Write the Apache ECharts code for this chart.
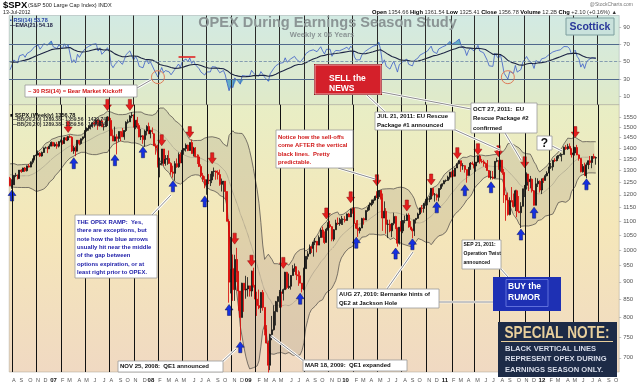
<!DOCTYPE html>
<html><head><meta charset="utf-8">
<script src="https://cdn.jsdelivr.net/npm/echarts@6/dist/echarts.min.js"></script>
<style>html,body{margin:0;padding:0;background:#fff}#c{width:640px;height:385px}</style>
</head><body><div id="c"></div>
<script>
// ---------- DATA ----------
const firstWeek = '2006-07-14';   // first weekly bar (Friday)
const weekSlots = 326;            // axis runs a few weeks past the last bar
const priceMin = 668, priceMax = 1616;

// closes before the first bar (only used to seed BB(20) and RSI(14))
const warmupClose = [1265,1259,1267,1268,1248,1285,1287,1261,1284,1264,1267,1288,1289,1287,1282,1307,1302,1295,1295,1289,1311,1310,1325,1291,1267,1280,1288,1253,1252,1245,1270,1265];

const weeklyOpen = [
1267,1237,1240,1279,1280,1266,1302,1296,1311,1299,1320,1315,1336,1350,1366,1368,1377,1364,1380,1401,1401,1397,1409,1427,1410,
1418,1409,1431,1431,1422,1449,1438,1455,1451,1387,1402,1386,1437,1421,1444,1453,1484,1494,1505,1505,1522,1515,1536,1507,1532,1502,1503,1530,1552,1534,1458,1433,1453,1445,1479,1474,1453,1484,1525,1527,1557,1561,1500,1535,1509,1453,1458,1440,1481,1504,1468,1484,
1468,1411,1401,1325,1331,1396,1331,1349,1353,1331,1294,1288,1330,1316,1370,1333,1390,1398,1414,1389,1426,1375,1400,1361,1360,1318,1278,1262,1239,1261,1257,1260,1296,1298,1292,1283,1242,1252,1255,1213,1099,899,940,877,969,930,873,800,896,876,879,888,
873,932,890,850,832,826,869,827,770,735,683,756,768,816,843,857,870,866,877,929,883,887,919,940,946,921,918,896,879,940,979,987,1010,1005,1026,1029,1016,1042,1068,1044,1025,1071,1087,1080,1036,1069,1093,1091,1091,1106,1106,1102,1126,
1115,1145,1136,1092,1074,1066,1075,1109,1104,1139,1150,1160,1167,1179,1194,1192,1217,1187,1111,1136,1088,1089,1065,1092,1117,1076,1022,1078,1065,1102,1102,1122,1079,1071,1065,1105,1110,1126,1149,1147,1166,1177,1183,1183,1226,1200,1200,1190,1225,1240,1244,1257,
1258,1272,1293,1283,1276,1311,1330,1343,1320,1321,1304,1279,1314,1332,1328,1320,1337,1364,1340,1338,1333,1331,1300,1271,1272,1268,1340,1344,1316,1345,1292,1199,1179,1124,1177,1174,1154,1216,1136,1131,1155,1224,1238,1285,1253,1263,1216,1159,1244,1255,1219,1265,
1258,1278,1289,1315,1316,1345,1343,1361,1366,1370,1371,1404,1397,1408,1398,1370,1378,1403,1369,1353,1295,1318,1278,1325,1343,1335,1362,1354.66];

const weeklyHigh = [
1273,1263,1280,1290,1283,1302,1306,1312,1315,1322,1329,1340,1353,1366,1372,1389,1381,1384,1403,1407,1406,1418,1431,1429,1427,
1429,1431,1440,1437,1452,1454,1457,1461,1456,1410,1409,1438,1438,1445,1453,1484,1499,1510,1513,1522,1530,1540,1540,1538,1540,1518,1534,1556,1555,1547,1489,1503,1466,1480,1481,1496,1485,1530,1539,1561,1576,1565,1535,1552,1520,1492,1462,1488,1510,1523,1486,1499,
1471,1421,1416,1356,1396,1396,1368,1368,1389,1336,1321,1341,1353,1380,1380,1395,1400,1422,1416,1426,1440,1406,1405,1372,1370,1327,1290,1276,1262,1285,1286,1297,1313,1300,1301,1304,1266,1256,1255,1214,1107,1044,985,984,1007,933,873,897,896,918,914,888,
934,943,890,871,877,870,876,827,780,741,758,804,833,845,857,876,871,880,930,930,925,920,951,956,946,935,931,896,943,979,996,1018,1013,1027,1040,1029,1049,1074,1080,1063,1076,1096,1101,1082,1071,1105,1113,1112,1119,1110,1118,1128,1130,
1145,1150,1150,1103,1104,1079,1112,1113,1139,1151,1170,1181,1181,1194,1214,1217,1219,1205,1174,1148,1105,1105,1092,1131,1119,1076,1078,1100,1103,1120,1128,1129,1100,1073,1105,1110,1131,1149,1160,1167,1184,1190,1196,1227,1228,1207,1205,1225,1241,1246,1259,1262,
1278,1293,1296,1302,1311,1330,1344,1343,1332,1323,1304,1314,1337,1339,1330,1337,1364,1370,1351,1347,1334,1346,1302,1299,1298,1341,1356,1344,1347,1346,1307,1199,1209,1190,1231,1205,1220,1220,1195,1171,1224,1239,1292,1285,1277,1266,1219,1269,1267,1258,1265,1270,
1285,1297,1316,1333,1345,1354,1363,1368,1378,1374,1407,1414,1420,1422,1398,1392,1406,1415,1371,1355,1328,1334,1335,1344,1364,1363,1374,1361.54];

const weeklyLow = [
1234,1224,1240,1272,1262,1266,1290,1294,1294,1296,1313,1314,1327,1344,1360,1367,1360,1361,1378,1399,1377,1397,1409,1409,1406,
1397,1403,1426,1416,1420,1433,1433,1448,1382,1374,1363,1386,1413,1416,1436,1448,1478,1483,1489,1498,1501,1512,1487,1504,1502,1484,1503,1506,1529,1458,1433,1432,1371,1430,1432,1453,1439,1477,1518,1527,1546,1500,1490,1492,1451,1438,1420,1406,1460,1467,1446,1467,
1411,1370,1313,1271,1322,1320,1321,1325,1330,1282,1270,1257,1312,1312,1332,1324,1370,1384,1386,1387,1374,1362,1358,1328,1315,1272,1252,1226,1200,1243,1235,1247,1274,1261,1262,1236,1213,1134,1180,1099,840,866,845,845,899,818,741,800,815,851,857,857,
857,883,818,804,822,812,818,754,734,667,672,742,766,779,814,826,827,846,877,878,879,877,919,930,905,888,896,869,875,940,969,987,990,978,1016,992,1016,1041,1041,1020,1025,1066,1075,1029,1029,1069,1086,1083,1086,1086,1095,1102,1115,
1115,1127,1090,1071,1044,1056,1075,1087,1104,1134,1140,1155,1160,1176,1187,1183,1181,1065,1111,1055,1040,1060,1043,1085,1071,1011,1018,1063,1057,1092,1101,1076,1069,1040,1047,1091,1108,1122,1131,1131,1157,1159,1171,1180,1194,1173,1177,1174,1219,1233,1243,1251,
1257,1262,1271,1275,1276,1311,1327,1294,1303,1291,1249,1279,1303,1324,1309,1295,1334,1330,1332,1317,1311,1300,1268,1262,1262,1266,1336,1303,1295,1282,1168,1101,1120,1121,1170,1150,1137,1114,1131,1075,1155,1191,1221,1215,1226,1209,1158,1159,1231,1209,1203,1248,
1258,1275,1289,1307,1300,1337,1340,1352,1361,1340,1371,1392,1392,1397,1357,1358,1366,1368,1343,1292,1291,1278,1267,1306,1324,1310,1351,1325.41];

const weeklyClose = [
1237,1240,1279,1280,1266,1302,1296,1311,1299,1320,1315,1336,1350,1366,1368,1377,1364,1380,1401,1401,1397,1409,1427,1410,1418,
1409,1431,1431,1422,1449,1438,1455,1451,1387,1402,1386,1437,1421,1444,1453,1484,1494,1505,1505,1522,1515,1536,1507,1532,1502,1503,1530,1552,1534,1458,1433,1453,1445,1479,1474,1453,1484,1525,1527,1557,1561,1500,1535,1509,1453,1458,1440,1481,1504,1468,1484,1478,
1411,1401,1325,1331,1396,1331,1349,1353,1331,1294,1288,1330,1316,1370,1333,1390,1398,1414,1389,1426,1375,1400,1361,1360,1318,1278,1262,1239,1261,1257,1260,1296,1298,1292,1283,1242,1252,1255,1213,1099,899,940,877,969,930,873,800,896,876,879,888,873,
932,890,850,832,826,869,827,770,735,683,756,768,816,843,857,870,866,877,929,883,887,919,940,946,921,918,896,879,940,979,987,1010,1005,1026,1029,1016,1042,1068,1044,1025,1071,1087,1080,1036,1069,1093,1091,1091,1106,1106,1102,1126,1115,
1145,1136,1092,1074,1066,1075,1109,1104,1139,1150,1160,1167,1179,1194,1192,1217,1187,1111,1136,1088,1089,1065,1092,1117,1076,1022,1078,1065,1102,1102,1122,1079,1071,1065,1105,1110,1126,1149,1147,1166,1177,1183,1183,1226,1200,1200,1190,1225,1240,1244,1257,1258,
1272,1293,1283,1276,1311,1330,1343,1320,1321,1304,1279,1314,1332,1328,1320,1337,1364,1340,1338,1333,1331,1300,1271,1272,1268,1340,1344,1316,1345,1292,1199,1179,1124,1177,1174,1154,1216,1136,1131,1155,1224,1238,1285,1253,1263,1216,1159,1244,1255,1219,1265,1258,
1278,1289,1315,1316,1345,1343,1361,1366,1370,1371,1404,1397,1408,1398,1370,1378,1403,1369,1353,1295,1318,1278,1325,1343,1335,1362,1354.68,1356.78];

// options expiration weeks in earnings-season months (vertical black lines)
const opexDates = ['2006-07-21','2006-10-20','2007-01-19','2007-04-20','2007-07-20','2007-10-19','2008-01-18','2008-04-18','2008-07-18','2008-10-17','2009-01-16','2009-04-17','2009-07-17','2009-10-16','2010-01-15','2010-04-16','2010-07-16','2010-10-15','2011-01-21','2011-04-15','2011-07-15','2011-10-21','2012-01-20','2012-04-20','2012-07-20'];

// red (sell) and blue (buy) arrows: week and price level of the arrow
const sellArrowDates  = ['2007-02-16','2007-07-13','2007-10-05','2008-02-01','2008-05-16','2008-08-08','2008-10-31','2009-01-02','2009-05-01','2009-10-09','2010-01-08','2010-04-16','2010-08-06','2010-11-05','2011-02-11','2011-04-29','2011-07-15','2011-10-21','2012-04-27'];
const sellArrowPrices = [1501,1615,1615,1437,1476,1354,1038,965,958,1128,1190,1259,1158,1262,1377,1395,1386,1336,1476];
const buyArrowDates   = ['2006-07-21','2007-03-09','2007-08-10','2007-11-23','2008-03-14','2008-07-11','2008-10-10','2008-11-21','2009-03-06','2009-07-03','2010-01-29','2010-06-25','2010-08-27','2010-11-26','2011-03-11','2011-06-17','2011-10-07','2011-11-25','2012-06-08'];
const buyArrowPrices  = [1197,1332,1345,1381,1234,1174,820,725,652,851,1024,988,1019,1151,1218,1230,1052,1131,1242];

// RSI annotations
const rsiCircleDates  = ['2008-01-18','2011-08-19'];
const rsiCircleValues = [32,32];
const rsiRedLine = {from:'2008-04-04', to:'2008-06-06', value:55.5};

// tick labels
const rsiTicks = [10,30,50,70,90];
const priceTicks = [700,750,800,850,900,950,1000,1050,1100,1150,1200,1250,1300,1350,1400,1450,1500,1550];
const monthLetters = ['J','F','M','A','M','J','J','A','S','O','N','D'];

// ---------- BUILD ----------
const F = '"Liberation Sans", Arial, Helvetica, sans-serif';
const cats = [];
const t0 = Date.parse(firstWeek);
for (let i = 0; i < weekSlots; i++) cats.push(new Date(t0 + i * 604800000).toISOString().slice(0, 10));

const N = weeklyClose.length;
const candles = weeklyOpen.map((o, i) => [o, weeklyClose[i], weeklyLow[i], weeklyHigh[i]]);

const allClose = warmupClose.concat(weeklyClose);
const W = warmupClose.length;
// Bollinger Bands (20, 2)
const bbMid = [], bbLo = [], bbDiff = [];
for (let i = 0; i < N; i++) {
  const j = i + W; let s = 0;
  for (let q = j - 19; q <= j; q++) s += allClose[q];
  const m = s / 20; let v = 0;
  for (let q = j - 19; q <= j; q++) v += (allClose[q] - m) * (allClose[q] - m);
  const sd = Math.sqrt(v / 20);
  bbMid.push(+m.toFixed(2)); bbLo.push(+(m - 2 * sd).toFixed(2)); bbDiff.push(+(4 * sd).toFixed(2));
}
// RSI(14) (Wilder) and EMA(21) of RSI
const rsiAll = new Array(allClose.length).fill(null);
let ag = 0, al = 0;
for (let j = 1; j < allClose.length; j++) {
  const ch = allClose[j] - allClose[j - 1];
  const g = ch > 0 ? ch : 0, l = ch < 0 ? -ch : 0;
  if (j <= 14) { ag += g / 14; al += l / 14; } else { ag = (ag * 13 + g) / 14; al = (al * 13 + l) / 14; }
  if (j >= 14) rsiAll[j] = al === 0 ? 100 : 100 - 100 / (1 + ag / al);
}
const emaAll = new Array(allClose.length).fill(null);
let e = null; const kk = 2 / 22;
for (let j = 14; j < allClose.length; j++) { e = e === null ? rsiAll[j] : e + kk * (rsiAll[j] - e); emaAll[j] = e; }
const rsi = rsiAll.slice(W).map(v => +v.toFixed(2));
const rsiEma = emaAll.slice(W).map(v => +v.toFixed(2));
const rsiLoBase = rsi.map(v => Math.min(v, 30));
const rsiLoFill = rsi.map(v => +(30 - Math.min(v, 30)).toFixed(2));
const rsiHiBase = rsi.map(() => 70);
const rsiHiFill = rsi.map(v => +(Math.max(v, 70) - 70).toFixed(2));

const downArrow = 'path://M3,0L7,0L7,6L10,6L5,12L0,6L3,6Z';
const upArrow = 'path://M5,0L10,6L7,6L7,12L3,12L3,6L0,6Z';
const arrowPoints = sellArrowDates.map((d, i) => ({coord: [d, sellArrowPrices[i]], symbol: downArrow, symbolSize: [8, 11],
    itemStyle: {color: '#e61e1e', borderColor: '#8c0b0b', borderWidth: 0.5}}))
  .concat(buyArrowDates.map((d, i) => ({coord: [d, buyArrowPrices[i]], symbol: upArrow, symbolSize: [8, 11],
    itemStyle: {color: '#1530e0', borderColor: '#0a1260', borderWidth: 0.5}})));

// ---------- GRAPHIC HELPERS ----------
const G = [];
function txt(x, y, text, size, color, o) {
  o = o || {};
  G.push({type: 'text', x: x, y: y, z: 52, silent: true, scaleX: o.scaleX || 1,
    style: {
    text: text, x: 0, y: 0, fontSize: size, fontFamily: o.family || F, fontWeight: o.weight || 'bold', fill: color,
    align: o.align || 'left', textAlign: o.align || 'left', verticalAlign: o.va || 'middle', textVerticalAlign: o.va || 'middle',
    rich: o.rich }});
}
function lines(x, y0, gap, arr, size, color, o) { arr.forEach((t, i) => txt(x, y0 + i * gap, t, size, color, o)); }
function box(x, y, w, h, fill, stroke, lw) {
  G.push({type: 'rect', z: 50, silent: true, shape: {x: x, y: y, width: w, height: h},
    style: {fill: fill, stroke: stroke || null, lineWidth: lw || 0.8}});
}
function callout(x1, y1, x2, y2) {
  G.push({type: 'line', z: 48, silent: true, shape: {x1, y1, x2, y2}, style: {stroke: '#ffffff', lineWidth: 2.6}});
  G.push({type: 'line', z: 49, silent: true, shape: {x1, y1, x2, y2}, style: {stroke: '#8c8c8c', lineWidth: 1}});
}

// header
txt(3, 5.5, '$SPX', 9.5, '#000');
txt(28, 5.8, '(S&P 500 Large Cap Index) INDX', 5.6, '#222', {weight: 'normal'});
txt(3, 12.8, '13-Jul-2012', 5.2, '#222', {weight: 'normal'});
txt(633, 5, '@StockCharts.com', 5, '#777', {weight: 'normal', align: 'right'});
txt(617, 12.6, '{b|Open} 1354.66 {b|High} 1361.54 {b|Low} 1325.41 {b|Close} 1356.78 {b|Volume} 12.2B {b|Chg} +2.10 (+0.16%) \u25B2', 5.6, '#333',
  {weight: 'normal', align: 'right', rich: {b: {fontWeight: 'bold', fontSize: 5.8, fontFamily: F, fill: '#000'}}});
// title
txt(327.5, 23, 'OPEX During Earnings Season Study', 14.6, '#8b9595', {align: 'center'});
txt(322, 35, 'Weekly x 06 Years', 7.5, '#8b9595', {align: 'center'});
box(566, 18, 48, 17, '#c9e2dc', '#7c9e9e', 1);
txt(590, 26.8, 'Scottick', 10.5, '#2a389a', {align: 'center'});
// RSI legend
txt(10, 20, '\u25AA RSI(14) 53.78', 5.5, '#2a46a8');
txt(10, 25, '\u2014EMA(21) 54.18', 5.5, '#1a1a40');
// price legend
txt(10, 115, '\u25A0 $SPX (Weekly) 1356.78', 5.6, '#111');
txt(12, 119.6, '\u2014BB(20,2.0) 1289.38 - 1359.56 - 1429.74', 5, '#333');
txt(12, 124.4, '\u2014BB(20,2.0) 1289.38 - 1359.56 - 1429.74', 5, '#333');

// annotations
callout(137, 88, 151, 80);
box(25, 85, 112, 12, '#ffffff', '#9a9a9a');
txt(28, 91.2, '~ 30 RSI(14) = Bear Market Kickoff', 5.8, '#d01414');

callout(367, 95, 385, 112);
callout(381, 92, 471, 109);
box(314, 64, 68, 31, '#8e1218', null);
box(315, 65, 66, 29, '#d4202a', '#f4d0d0', 0.8);
lines(329, 78.8, 10, ['SELL the', 'NEWS'], 8.5, '#ffffff');

callout(453, 129, 500, 150);
box(375, 112, 80, 18, '#ffffff', '#9a9a9a');
lines(377, 116.5, 8.8, ['JUL 21, 2011: EU Rescue', 'Package #1 announced'], 6, '#111');

callout(505, 133, 521, 160);
box(471, 103, 66, 30, '#ffffff', '#9a9a9a');
lines(473, 109, 9.5, ['OCT 27, 2011:  EU', 'Rescue Package #2', 'confirmed'], 6, '#111');

callout(552, 146, 562, 151);
box(537, 136, 15, 14, '#ffffff', '#9a9a9a');
txt(544.5, 143.5, '?', 12, '#111', {align: 'center'});

callout(338, 168, 375, 179);
box(276, 130, 77, 38, '#ffffff', '#9a9a9a');
lines(278, 137, 8.5, ['Notice how the sell-offs', 'come AFTER the vertical', 'black lines.  Pretty', 'predictable.'], 5.9, '#d01818');

callout(152, 215, 171, 195);
box(75, 215, 82, 63, '#ffffff', '#9a9a9a');
lines(77, 222, 8.45, ['THE OPEX RAMP:  Yes,', 'there are exceptions, but', 'note how the blue arrows', 'usually hit near the middle', 'of the gap between', 'options expiration, or at', 'least right prior to OPEX.'], 5.9, '#1c1ca8');

callout(222, 362, 236, 349);
box(118, 361, 105, 11, '#ffffff', '#9a9a9a');
txt(120, 366.7, 'NOV 25, 2008:  QE1 announced', 6, '#111');

callout(304, 361, 271, 336);
box(303, 360, 104, 11, '#ffffff', '#9a9a9a');
txt(305, 365.7, 'MAR 18, 2009:  QE1 expanded', 6, '#111');

callout(387, 289, 413, 252);
callout(439, 302, 493, 302);
box(337, 289, 102, 19, '#ffffff', '#9a9a9a');
lines(339, 294.5, 8.6, ['AUG 27, 2010: Bernanke hints of', 'QE2 at Jackson Hole'], 5.9, '#111');

callout(500, 268, 508, 277);
box(462, 240, 39, 29, '#ffffff', '#9a9a9a');
lines(463.5, 245, 9, ['SEP 21, 2011:', 'Operation Twist', 'announced'], 5, '#111');

box(493, 277, 68, 34, '#1e30b4', null);
box(506, 279.5, 42, 27, null, '#7080e6', 0.8);
lines(508, 287, 11, ['BUY the', 'RUMOR'], 8.5, '#ffffff');

box(498, 322, 119, 55, '#1d2b47', null);
txt(557, 333.5, 'SPECIAL NOTE:', 17, '#e8cf9c', {align: 'center', scaleX: 0.8});
G.push({type: 'line', z: 51, silent: true, shape: {x1: 501, y1: 341.5, x2: 613, y2: 341.5}, style: {stroke: '#e8cf9c', lineWidth: 1}});
lines(505, 348.5, 10.5, ['BLACK VERTICAL LINES', 'REPRESENT OPEX DURING', 'EARNINGS SEASON ONLY.'], 7.6, '#d6dbe8');

// ---------- CHART ----------
const chart = echarts.init(document.getElementById('c'), null, {renderer: 'canvas'});
const rsiBg = {type: 'linear', x: 0, y: 0, x2: 0, y2: 1, colorStops: [{offset: 0, color: '#d2eae3'}, {offset: 1, color: '#e0eac8'}]};
const priceBg = {type: 'linear', x: 0, y: 0, x2: 0, y2: 1, colorStops: [{offset: 0, color: '#e8eec5'}, {offset: 0.45, color: '#f5e7b9'}, {offset: 1, color: '#f0d9c2'}]};
const hiddenLine = {width: 0, opacity: 0};
const vLine = (color) => opexDates.map(d => ({xAxis: d, lineStyle: {color: color, width: 1, type: 'solid'}}));

chart.setOption({
  animation: false,
  backgroundColor: '#ffffff',
  textStyle: {fontFamily: F},
  grid: [
    {left: 9.2, right: 20.8, top: 15.5, height: 89.2, show: true, backgroundColor: rsiBg, borderColor: '#9aa8a8', borderWidth: 0.5},
    {left: 9.2, right: 20.8, top: 104.7, bottom: 13, show: true, backgroundColor: priceBg, borderColor: '#a8a090', borderWidth: 0.5}
  ],
  xAxis: [
    {gridIndex: 0, type: 'category', data: cats, boundaryGap: true, axisLine: {show: false}, axisTick: {show: false}, axisLabel: {show: false}, splitLine: {show: false}},
    {gridIndex: 1, type: 'category', data: cats, boundaryGap: true, axisLine: {show: false}, axisTick: {show: false}, splitLine: {show: false},
      axisLabel: {
        interval: (idx, val) => Number(val.slice(8, 10)) <= 7,
        formatter: (val) => { const m = Number(val.slice(5, 7)); return m === 1 ? '{yr|' + val.slice(2, 4) + '}' : monthLetters[m - 1]; },
        align: 'right', fontSize: 5.5, color: '#555', margin: 5, fontFamily: F,
        rich: {yr: {fontWeight: 'bold', fontSize: 6, color: '#111', fontFamily: F}}
      }}
  ],
  yAxis: [
    {gridIndex: 0, type: 'value', min: 0, max: 103.7, position: 'right', splitLine: {show: false}, axisLine: {show: false},
      axisTick: {show: true, length: 2, customValues: rsiTicks, lineStyle: {color: '#888', width: 0.5}},
      axisLabel: {customValues: rsiTicks, fontSize: 6, color: '#555', margin: 4, fontFamily: F}},
    {gridIndex: 1, type: 'log', min: priceMin, max: priceMax, position: 'right', show: false, splitLine: {show: false}},
    {gridIndex: 1, type: 'value', min: Math.log(priceMin), max: Math.log(priceMax), position: 'right', splitLine: {show: false}, axisLine: {show: false},
      axisTick: {show: true, length: 2, customValues: priceTicks.map(Math.log), lineStyle: {color: '#888', width: 0.5}},
      axisLabel: {customValues: priceTicks.map(Math.log), formatter: v => String(Math.round(Math.exp(v))), fontSize: 6, color: '#555', margin: 4, fontFamily: F}}
  ],
  series: [
    {type: 'line', xAxisIndex: 0, yAxisIndex: 0, data: rsiLoBase, stack: 'rsiLo', symbol: 'none', lineStyle: hiddenLine, silent: true},
    {type: 'line', xAxisIndex: 0, yAxisIndex: 0, data: rsiLoFill, stack: 'rsiLo', symbol: 'none', lineStyle: hiddenLine, silent: true, areaStyle: {color: '#4fa3c6', opacity: 0.85}},
    {type: 'line', xAxisIndex: 0, yAxisIndex: 0, data: rsiHiBase, stack: 'rsiHi', symbol: 'none', lineStyle: hiddenLine, silent: true},
    {type: 'line', xAxisIndex: 0, yAxisIndex: 0, data: rsiHiFill, stack: 'rsiHi', symbol: 'none', lineStyle: hiddenLine, silent: true, areaStyle: {color: '#4fa3c6', opacity: 0.85}},
    {type: 'line', name: 'RSI(14)', xAxisIndex: 0, yAxisIndex: 0, data: rsi, symbol: 'none', silent: true, lineStyle: {color: '#3a5cc8', width: 0.8}, z: 3,
      markLine: {silent: true, symbol: ['none', 'none'], label: {show: false}, animation: false,
        data: vLine('#2a2a2a').concat([
          {yAxis: 70, lineStyle: {color: '#50698c', width: 1, type: 'solid'}},
          {yAxis: 50, lineStyle: {color: '#6f88a6', width: 0.8, type: 'dashed'}},
          {yAxis: 30, lineStyle: {color: '#50698c', width: 1, type: 'solid'}},
          [{coord: [rsiRedLine.from, rsiRedLine.value], lineStyle: {color: '#e01818', width: 1.5, type: 'solid'}}, {coord: [rsiRedLine.to, rsiRedLine.value]}]
        ])},
      markPoint: {silent: true, label: {show: false}, animation: false,
        data: rsiCircleDates.map((d, i) => ({coord: [d, rsiCircleValues[i]], symbol: 'circle', symbolSize: 13,
          itemStyle: {color: 'rgba(0,0,0,0)', borderColor: '#df7a58', borderWidth: 1}}))}},
    {type: 'line', name: 'EMA(21)', xAxisIndex: 0, yAxisIndex: 0, data: rsiEma, symbol: 'none', silent: true, lineStyle: {color: '#1c2444', width: 1.1}, z: 3},

    {type: 'line', xAxisIndex: 1, yAxisIndex: 1, data: bbLo, stack: 'bb', symbol: 'none', silent: true, lineStyle: {color: '#5a5650', width: 0.8}},
    {type: 'line', xAxisIndex: 1, yAxisIndex: 1, data: bbDiff, stack: 'bb', symbol: 'none', silent: true, lineStyle: {color: '#5a5650', width: 0.8},
      areaStyle: {color: 'rgba(118,106,96,0.24)'}},
    {type: 'line', xAxisIndex: 1, yAxisIndex: 1, data: bbMid, symbol: 'none', silent: true, lineStyle: {color: '#6e6a64', width: 0.6, type: 'dotted'}},
    {type: 'candlestick', xAxisIndex: 1, yAxisIndex: 1, data: candles, barWidth: 1.5, silent: true, z: 3,
      itemStyle: {color: '#111111', color0: '#d60000', borderColor: '#111111', borderColor0: '#d60000', borderWidth: 0.8},
      markPoint: {silent: true, label: {show: false}, animation: false, data: arrowPoints}}
  ],
  graphic: G
});

// OPEX verticals in the price panel, placed through the chart's own axis scales
(function () {
  let yTop = NaN, yBot = NaN;
  try {
    const a = chart.convertToPixel({xAxisIndex: 1, yAxisIndex: 2}, [cats[0], Math.log(priceMax)]);
    const b = chart.convertToPixel({xAxisIndex: 1, yAxisIndex: 2}, [cats[0], Math.log(priceMin)]);
    yTop = a[1]; yBot = b[1];
  } catch (err) {}
  if (!(isFinite(yTop) && isFinite(yBot) && yBot - yTop > 100)) {
    try {
      const r = chart.getModel().getComponent('grid', 1).coordinateSystem.getRect();
      yTop = r.y; yBot = r.y + r.height;
    } catch (err) {}
  }
  if (!(isFinite(yTop) && isFinite(yBot) && yBot - yTop > 100)) return;
  const vg = [];
  opexDates.forEach(d => {
    let x = chart.convertToPixel({xAxisIndex: 1}, d);
    if (!isFinite(x)) x = chart.convertToPixel({xAxisIndex: 1}, cats.indexOf(d));
    if (!isFinite(x)) return;
    x = Math.round(x) + 0.5;
    vg.push({type: 'line', z: 10, silent: true, shape: {x1: x, y1: yTop, x2: x, y2: yBot}, style: {stroke: '#111111', lineWidth: 1}});
  });
  chart.setOption({graphic: G.concat(vg)});
})();
</script>
</body></html>
